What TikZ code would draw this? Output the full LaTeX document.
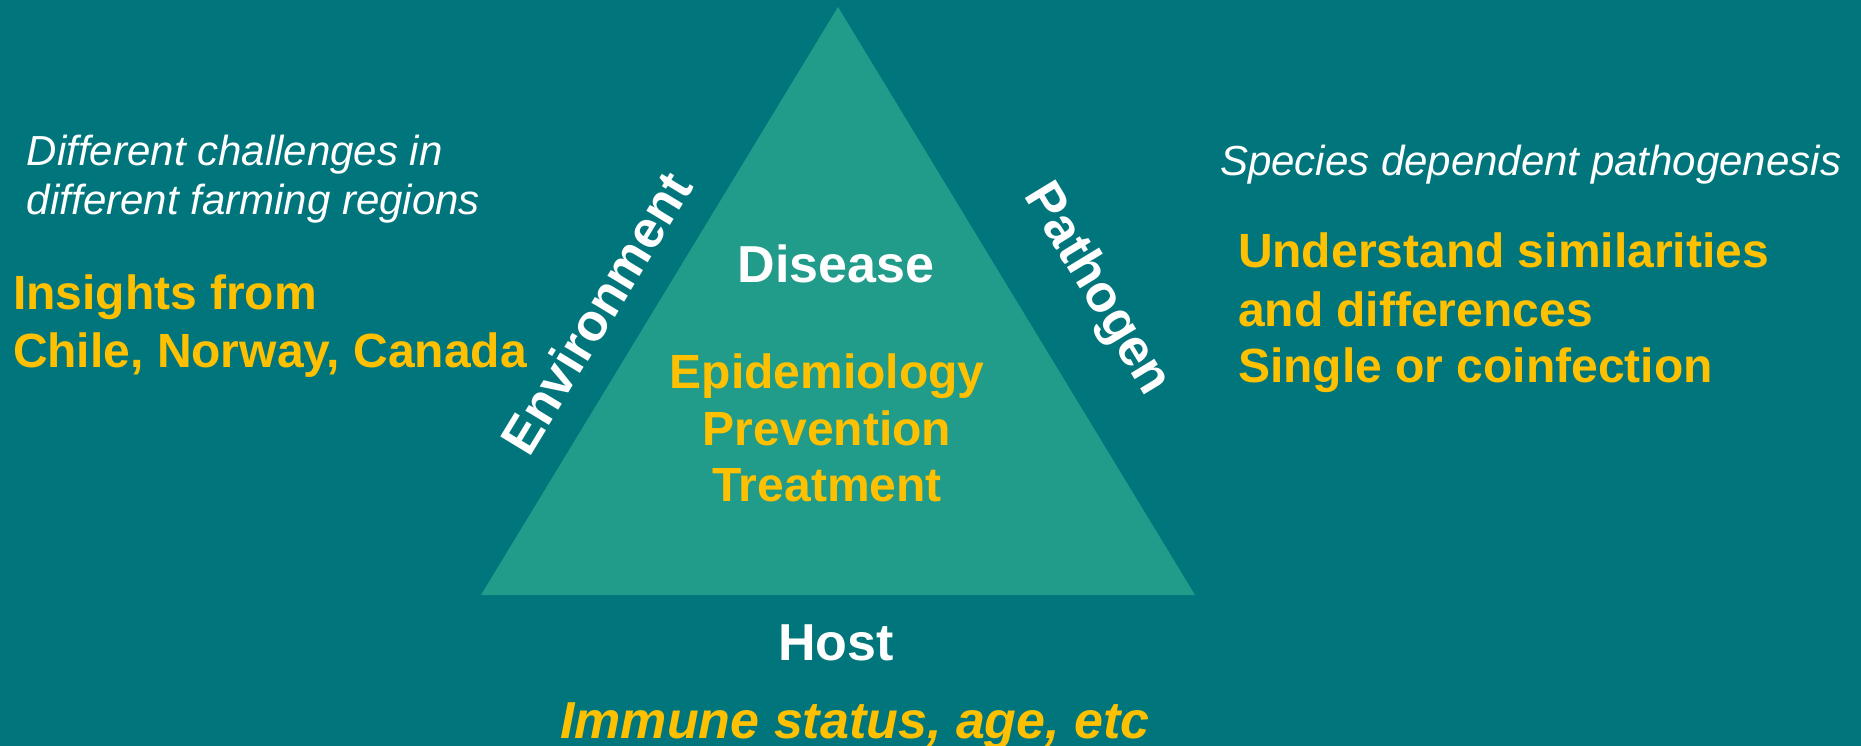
\documentclass[tikz,border=0pt]{standalone}
\usepackage{fontspec}
\setmainfont{Liberation Sans}
\definecolor{bgteal}{RGB}{0,118,124}
\definecolor{trigreen}{RGB}{33,155,138}
\definecolor{gold}{RGB}{255,192,0}
\tikzset{
  txt/.style={inner sep=0pt, outer sep=0pt},
  smallit/.style={txt, text=white, font=\fontsize{42}{50}\selectfont\itshape, align=left, anchor=base west},
  goldbig/.style={txt, text=gold, font=\fontsize{48}{56}\selectfont\bfseries},
  whitebig/.style={txt, text=white, font=\fontsize{52}{60}\selectfont\bfseries},
}
\begin{document}
\begin{tikzpicture}[x=1pt,y=-1pt]
\useasboundingbox (0,0) rectangle (1861,746);
\fill[bgteal] (0,0) rectangle (1861,746);
\coordinate (apex) at (838,7);
\coordinate (bl) at (481,595);
\coordinate (br) at (1195,595);
\fill[trigreen] (apex) -- (br) -- (bl) -- cycle;
% left
\node[smallit] (dc1) at (27,166) {Different challenges in};
\node[smallit] (dc2) at (27,215) {different farming regions};
\node[goldbig, anchor=base west] (ins1) at (13,309) {Insights from};
\node[goldbig, anchor=base west] (ins2) at (13,367) {Chile, Norway, Canada};
% right
\node[smallit] (spec) at (1220,176) {Species dependent pathogenesis};
\node[goldbig, anchor=base west] (und1) at (1238,267) {Understand similarities};
\node[goldbig, anchor=base west] (und2) at (1238,326) {and differences};
\node[goldbig, anchor=base west] (und3) at (1238,382) {Single or coinfection};
% centre
\node[whitebig, anchor=base] (dis) at (836,283) {Disease};
\node[goldbig, anchor=base] (epi) at (827,388) {Epidemiology};
\node[goldbig, anchor=base] (prev) at (827,445) {Prevention};
\node[goldbig, anchor=base] (treat) at (827,501) {Treatment};
% bottom
\node[whitebig, anchor=base] (host) at (836,660) {Host};
\node[goldbig, font=\fontsize{52}{60}\selectfont\bfseries\itshape, anchor=base] (imm) at (855,738) {Immune status, age, etc};
% sides
\node[whitebig, rotate=58.7] (env) at (596,313) {Environment};
\node[whitebig, rotate=-58.7] (path) at (1096,290) {Pathogen};
\end{tikzpicture}
\end{document}
